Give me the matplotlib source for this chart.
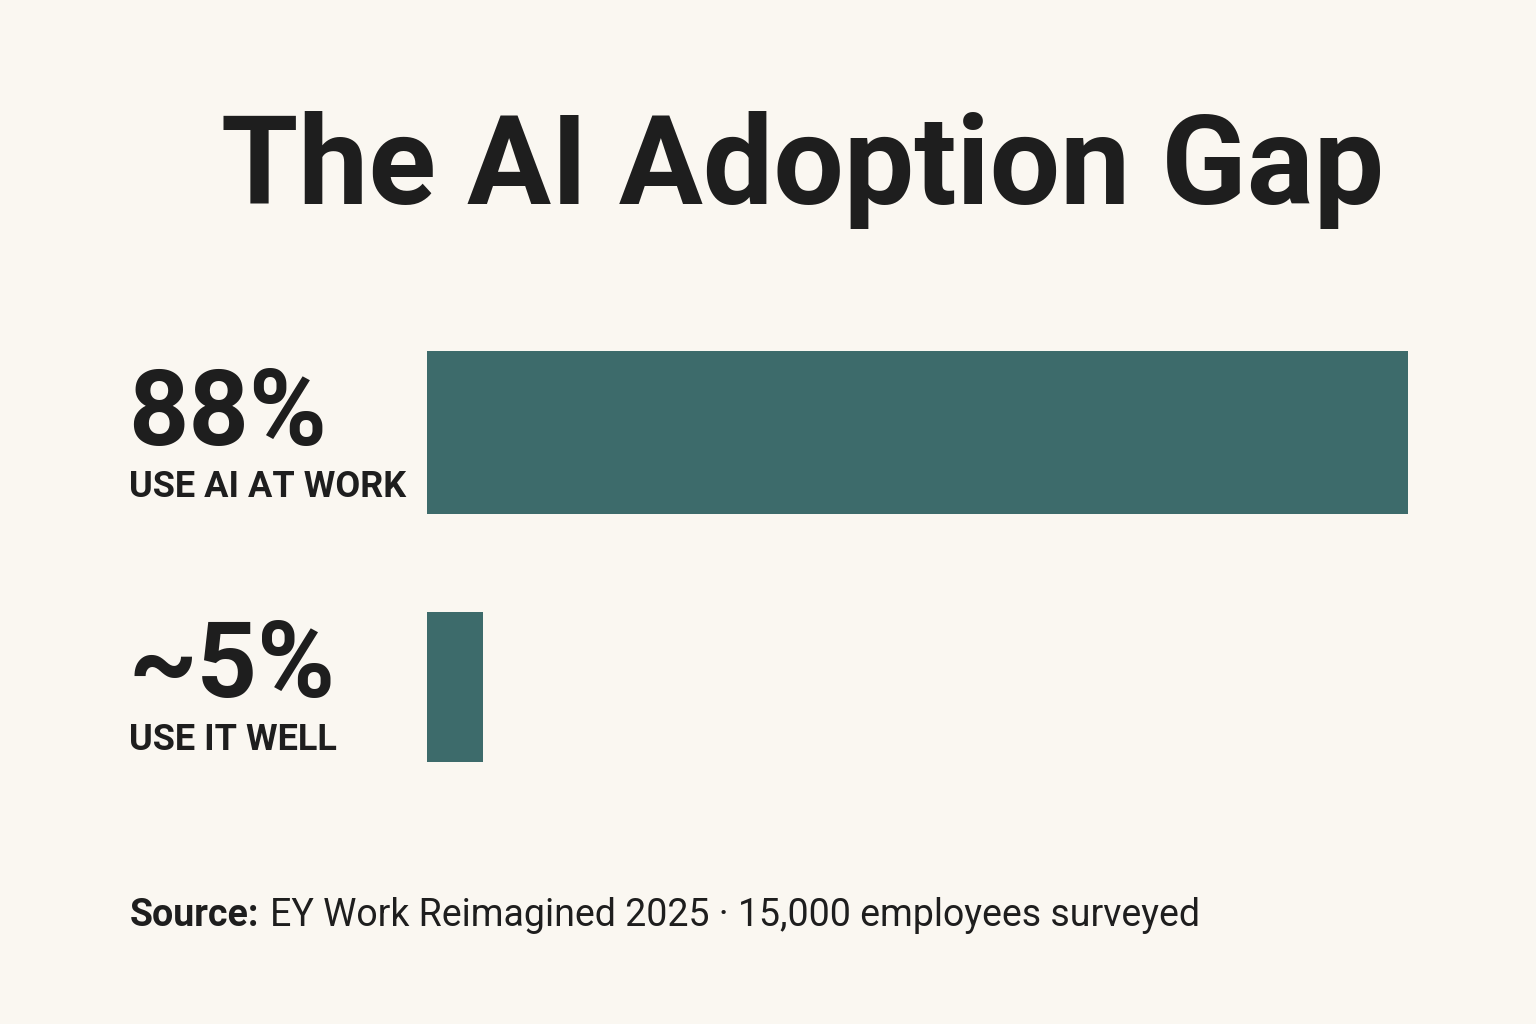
import matplotlib as mpl
import matplotlib.pyplot as plt

mpl.rcParams["font.family"] = ["Roboto", "DejaVu Sans"]

labels = ["USE AI AT WORK", "USE IT WELL"]
pct_text = ["88%", "~5%"]
values = [88, 5]
heights = [0.64, 0.59]
ypos = [0, 1]

bg = "#faf7f1"
bar_color = "#3d6b6b"
ink = "#1e1e1e"

fig = plt.figure(figsize=(15.36, 10.24), dpi=100, facecolor=bg)
W, H = 1536, 1024

# bar area in pixel terms of the figure
ax = fig.add_axes([427 / W, 1 - 775 / H, 981 / W, 435 / H])
ax.set_facecolor(bg)
ax.barh(ypos, values, height=heights, color=bar_color)
ax.set_xlim(0, 88)
ax.set_ylim(1.346, -0.363)
ax.axis("off")

fig.text(803 / W, 1 - 204 / H, "The AI Adoption Gap", ha="center", va="baseline",
         fontsize=90, fontweight="bold", color=ink)

big_y = [445, 697]
small_y = [497, 750]
for i in range(2):
    fig.text(128 / W, 1 - big_y[i] / H, pct_text[i], ha="left", va="baseline",
             fontsize=76, fontweight="bold", color=ink)
    fig.text(129 / W, 1 - small_y[i] / H, labels[i], ha="left", va="baseline",
             fontsize=26, fontweight="bold", color=ink)

src = fig.text(130 / W, 1 - 926 / H, "Source:", ha="left", va="baseline",
               fontsize=27, fontweight="bold", color=ink)
fig.canvas.draw()
bb = src.get_window_extent()
fig.text(bb.x1 / W + 10 / W, 1 - 926 / H, "EY Work Reimagined 2025 \u00b7 15,000 employees surveyed",
         ha="left", va="baseline", fontsize=27, color=ink)

fig.savefig("out.png", dpi=100, facecolor=bg)
